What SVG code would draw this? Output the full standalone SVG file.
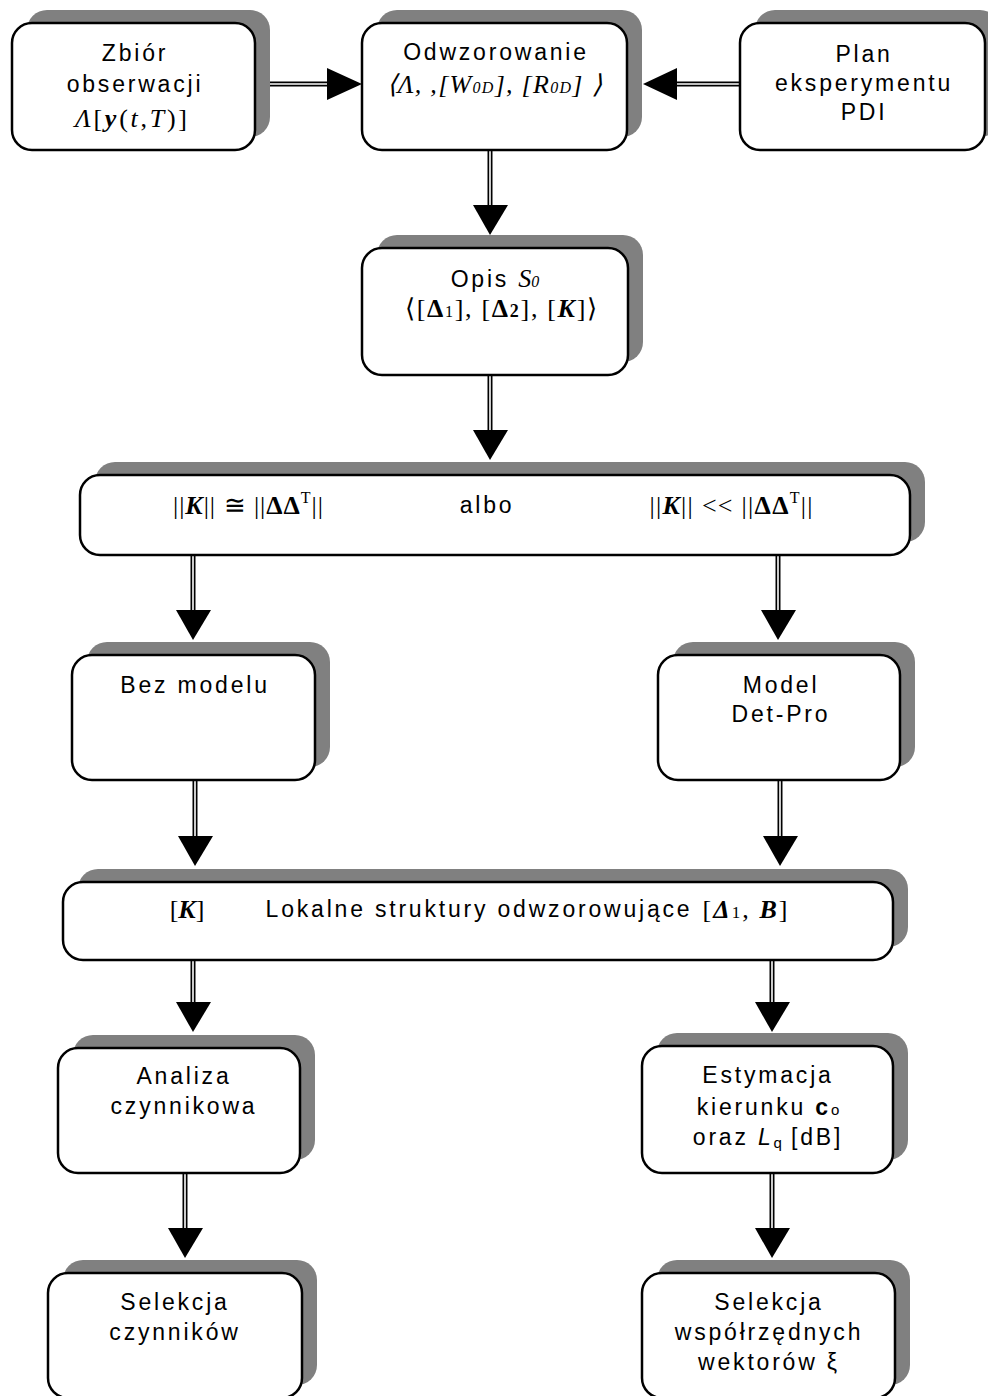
<svg xmlns="http://www.w3.org/2000/svg" width="988" height="1396" viewBox="0 0 988 1396">
<style>
.sh{fill:#808080}
.bx{fill:#fff;stroke:#000;stroke-width:2.5}
.t{font-family:"Liberation Sans",Arial,sans-serif;font-size:23px;letter-spacing:2.8px;fill:#000;text-anchor:middle}
.m{font-family:"Liberation Serif","Times New Roman",serif;font-size:26px;fill:#000;text-anchor:middle}
.lo{stroke:#000;stroke-width:5;fill:none}
.li{stroke:#fff;stroke-width:1.6;fill:none}
.ah{fill:#000}
.i{font-style:italic}
.b{font-weight:bold}
.bi{font-weight:bold;font-style:italic}
</style>
<rect width="988" height="1396" fill="#fff"/>

<g id="connectors">
  <path class="lo" d="M255 84H330"/><path class="li" d="M255 84H330"/>
  <polygon class="ah" points="327,68 362,84 327,100"/>
  <path class="lo" d="M740 84H674"/><path class="li" d="M740 84H674"/>
  <polygon class="ah" points="677,68 643,84 677,100"/>
  <path class="lo" d="M490 150V207"/><path class="li" d="M490 150V207"/>
  <polygon class="ah" points="473,205 508,205 490,235"/>
  <path class="lo" d="M490 375V432"/><path class="li" d="M490 375V432"/>
  <polygon class="ah" points="473,430 508,430 490,460"/>
  <path class="lo" d="M193 555V612"/><path class="li" d="M193 555V612"/>
  <polygon class="ah" points="176,610 211,610 193,640"/>
  <path class="lo" d="M778 555V612"/><path class="li" d="M778 555V612"/>
  <polygon class="ah" points="761,610 796,610 778,640"/>
  <path class="lo" d="M195 780V838"/><path class="li" d="M195 780V838"/>
  <polygon class="ah" points="178,836 213,836 195,866"/>
  <path class="lo" d="M780 780V838"/><path class="li" d="M780 780V838"/>
  <polygon class="ah" points="763,836 798,836 780,866"/>
  <path class="lo" d="M193 960V1004"/><path class="li" d="M193 960V1004"/>
  <polygon class="ah" points="176,1002 211,1002 193,1032"/>
  <path class="lo" d="M772 960V1004"/><path class="li" d="M772 960V1004"/>
  <polygon class="ah" points="755,1002 790,1002 772,1032"/>
  <path class="lo" d="M185 1173V1230"/><path class="li" d="M185 1173V1230"/>
  <polygon class="ah" points="168,1228 203,1228 185,1258"/>
  <path class="lo" d="M772 1173V1230"/><path class="li" d="M772 1173V1230"/>
  <polygon class="ah" points="755,1228 790,1228 772,1258"/>
</g>

<g id="zbior">
  <rect class="sh" x="27" y="10" width="243" height="127" rx="20"/>
  <rect class="bx" x="12" y="23" width="243" height="127" rx="20"/>
  <text class="t" x="135" y="61">Zbiór</text>
  <text class="t" x="135" y="92">obserwacji</text>
  <text class="m" x="131" y="127" font-size="29" textLength="112"><tspan class="i">Λ</tspan>[<tspan class="bi">y</tspan>(<tspan class="i">t</tspan>,<tspan class="i">T</tspan>)]</text>
</g>

<g id="odwzorowanie">
  <rect class="sh" x="377" y="10" width="265" height="127" rx="20"/>
  <rect class="bx" x="362" y="23" width="265" height="127" rx="20"/>
  <text class="t" x="496" y="60">Odwzorowanie</text>
  <text class="m i" x="494" y="93" font-size="24" textLength="215">⟨Λ, ,[W<tspan font-size="16">0D</tspan>], [R<tspan font-size="16">0D</tspan>] ⟩</text>
</g>

<g id="plan">
  <rect class="sh" x="755" y="10" width="245" height="127" rx="20"/>
  <rect class="bx" x="740" y="23" width="245" height="127" rx="20"/>
  <text class="t" x="864" y="62">Plan</text>
  <text class="t" x="864" y="91">eksperymentu</text>
  <text class="t" x="864" y="120">PDI</text>
</g>

<g id="opis">
  <rect class="sh" x="377" y="235" width="266" height="127" rx="20"/>
  <rect class="bx" x="362" y="248" width="266" height="127" rx="20"/>
  <text class="t" x="495" y="287">Opis <tspan font-family="Liberation Serif,serif" font-style="italic" font-size="26" letter-spacing="0">S</tspan><tspan font-family="Liberation Serif,serif" font-style="italic" font-size="16" letter-spacing="0">0</tspan></text>
  <text class="m" x="501" y="317" font-size="24" textLength="192">⟨[<tspan class="b">Δ</tspan><tspan font-size="16">1</tspan>], [<tspan class="b">Δ</tspan><tspan class="b" font-size="18">2</tspan>], [<tspan class="bi">K</tspan>]⟩</text>
</g>

<g id="warunek">
  <rect class="sh" x="95" y="462" width="830" height="80" rx="20"/>
  <rect class="bx" x="80" y="475" width="830" height="80" rx="20"/>
  <text class="m" x="248" y="514" font-size="27" textLength="150">||<tspan class="bi">K</tspan>|| ≅ ||<tspan class="b">ΔΔ</tspan><tspan font-size="16" dy="-11">T</tspan><tspan dy="11">||</tspan></text>
  <text class="t" x="487" y="513">albo</text>
  <text class="m" x="731" y="514" font-size="27" textLength="163">||<tspan class="bi">K</tspan>|| &lt;&lt; ||<tspan class="b">ΔΔ</tspan><tspan font-size="16" dy="-11">T</tspan><tspan dy="11">||</tspan></text>
</g>

<g id="bezmodelu">
  <rect class="sh" x="87" y="642" width="243" height="125" rx="20"/>
  <rect class="bx" x="72" y="655" width="243" height="125" rx="20"/>
  <text class="t" x="195" y="693">Bez modelu</text>
</g>

<g id="detpro">
  <rect class="sh" x="673" y="642" width="242" height="125" rx="20"/>
  <rect class="bx" x="658" y="655" width="242" height="125" rx="20"/>
  <text class="t" x="781" y="693">Model</text>
  <text class="t" x="781" y="722">Det-Pro</text>
</g>

<g id="lokalne">
  <rect class="sh" x="78" y="869" width="830" height="78" rx="20"/>
  <rect class="bx" x="63" y="882" width="830" height="78" rx="20"/>
  <text class="m" x="187" y="918" font-size="27">[<tspan class="bi">K</tspan>]</text>
  <text class="t" x="479" y="917">Lokalne struktury odwzorowujące</text>
  <text class="m" x="745" y="918" font-size="27" textLength="85">[<tspan class="bi">Δ</tspan><tspan font-size="17">1</tspan>, <tspan class="bi">B</tspan>]</text>
</g>

<g id="analiza">
  <rect class="sh" x="73" y="1035" width="242" height="125" rx="20"/>
  <rect class="bx" x="58" y="1048" width="242" height="125" rx="20"/>
  <text class="t" x="184" y="1084">Analiza</text>
  <text class="t" x="184" y="1114">czynnikowa</text>
</g>

<g id="estymacja">
  <rect class="sh" x="657" y="1033" width="251" height="127" rx="20"/>
  <rect class="bx" x="642" y="1046" width="251" height="127" rx="20"/>
  <text class="t" x="768" y="1083">Estymacja</text>
  <text class="t" x="768" y="1115">kierunku <tspan class="b">c</tspan><tspan font-size="15" letter-spacing="0">o</tspan></text>
  <text class="t" x="768" y="1145">oraz <tspan class="i">L</tspan><tspan font-size="15" letter-spacing="0" dy="3">q</tspan><tspan dy="-3"> [dB]</tspan></text>
</g>

<g id="selekcja1">
  <rect class="sh" x="63" y="1260" width="254" height="125" rx="20"/>
  <rect class="bx" x="48" y="1273" width="254" height="125" rx="20"/>
  <text class="t" x="175" y="1310">Selekcja</text>
  <text class="t" x="175" y="1340">czynników</text>
</g>

<g id="selekcja2">
  <rect class="sh" x="657" y="1260" width="253" height="125" rx="20"/>
  <rect class="bx" x="642" y="1273" width="253" height="125" rx="20"/>
  <text class="t" x="769" y="1310">Selekcja</text>
  <text class="t" x="769" y="1340">współrzędnych</text>
  <text class="t" x="769" y="1370">wektorów ξ</text>
</g>
</svg>
